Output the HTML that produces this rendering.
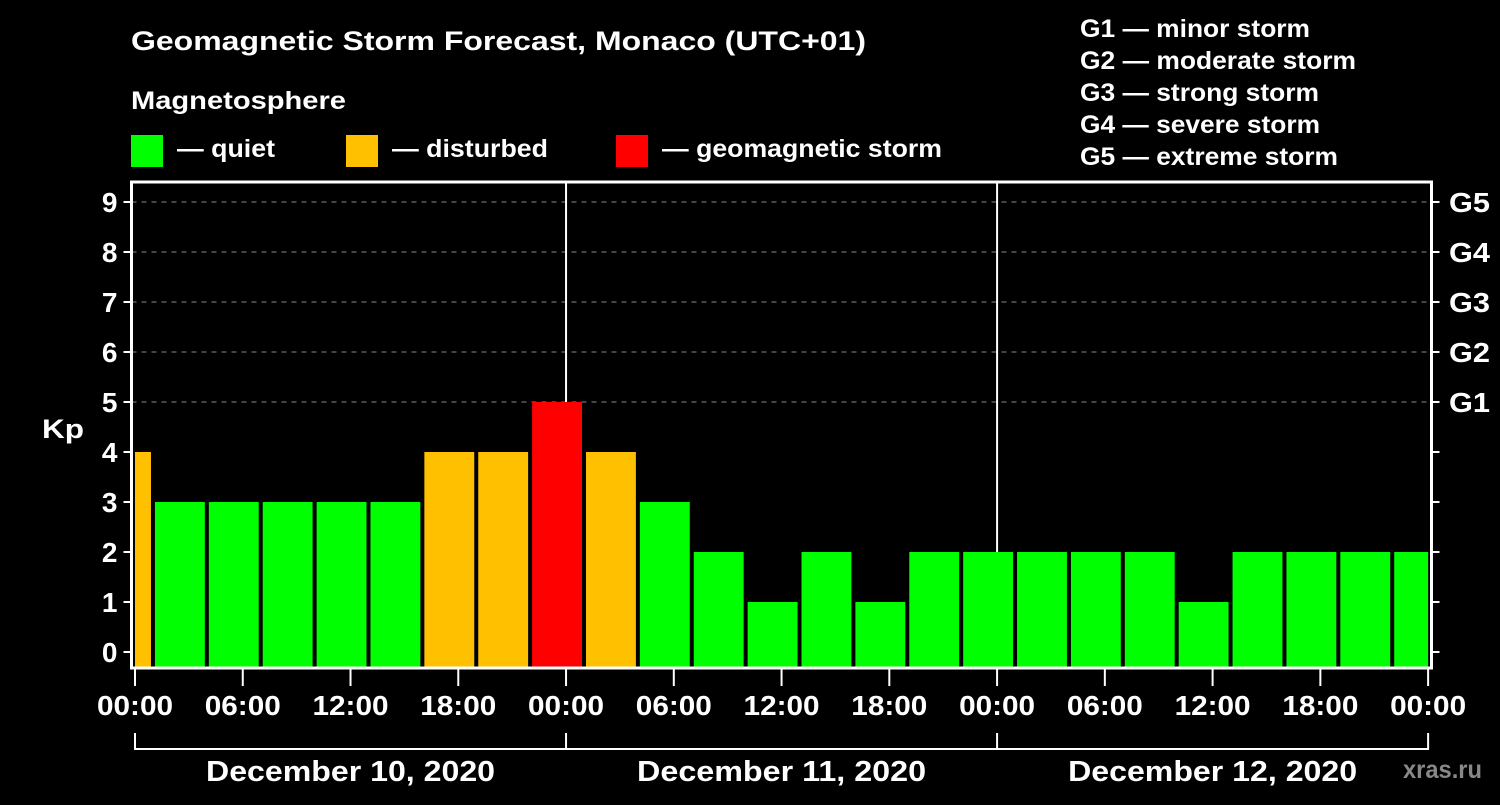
<!DOCTYPE html>
<html><head><meta charset="utf-8"><style>
body{margin:0;background:#000;width:1500px;height:800px;overflow:hidden}
svg text{font-family:"Liberation Sans",Arial,sans-serif;font-weight:bold;fill:#fff}
</style></head><body>
<svg id="c" width="1500" height="800" xmlns="http://www.w3.org/2000/svg">
<text x="131" y="50" font-size="27" textLength="735" lengthAdjust="spacingAndGlyphs">Geomagnetic Storm Forecast, Monaco (UTC+01)</text>
<text x="131" y="109" font-size="25" textLength="215" lengthAdjust="spacingAndGlyphs">Magnetosphere</text>
<rect x="131" y="135" width="32" height="32" fill="#00ff00"/>
<text x="177" y="157" font-size="25" textLength="98" lengthAdjust="spacingAndGlyphs">— quiet</text>
<rect x="346" y="135" width="32" height="32" fill="#ffc000"/>
<text x="392" y="157" font-size="25" textLength="156" lengthAdjust="spacingAndGlyphs">— disturbed</text>
<rect x="616" y="135" width="32" height="32" fill="#ff0000"/>
<text x="662" y="157" font-size="25" textLength="280" lengthAdjust="spacingAndGlyphs">— geomagnetic storm</text>
<g font-size="25">
<text x="1080" y="37" textLength="230" lengthAdjust="spacingAndGlyphs">G1 — minor storm</text>
<text x="1080" y="69" textLength="276" lengthAdjust="spacingAndGlyphs">G2 — moderate storm</text>
<text x="1080" y="101" textLength="239" lengthAdjust="spacingAndGlyphs">G3 — strong storm</text>
<text x="1080" y="133" textLength="240" lengthAdjust="spacingAndGlyphs">G4 — severe storm</text>
<text x="1080" y="165" textLength="258" lengthAdjust="spacingAndGlyphs">G5 — extreme storm</text>
</g>
<text x="42" y="438" font-size="27" textLength="42" lengthAdjust="spacingAndGlyphs">Kp</text>
<text x="1403" y="778" font-size="25" textLength="79" lengthAdjust="spacingAndGlyphs" style="fill:#888">xras.ru</text>
<g id="plot"></g>
</svg>
<script>
const kpValues=[4,3,3,3,3,3,4,4,5,4,3,2,1,2,1,2,2,2,2,2,1,2,2,2,2];
const barStartHours=[-2,1,4,7,10,13,16,19,22,25,28,31,34,37,40,43,46,49,52,55,58,61,64,67,70];
const yTicks=[0,1,2,3,4,5,6,7,8,9];
const gLabels=["G1","G2","G3","G4","G5"];
const timeLabels=["00:00","06:00","12:00","18:00","00:00","06:00","12:00","18:00","00:00","06:00","12:00","18:00","00:00"];
const dateLabels=["December 10, 2020","December 11, 2020","December 12, 2020"];
const NS="http://www.w3.org/2000/svg";
const g=document.getElementById('plot');
const L=131.5,R=1431.5,T=182,B=668;
const x=h=>135+h*17.96;
const y=v=>652-v*50;
function mk(t,a,p){const e=document.createElementNS(NS,t);for(const k in a)e.setAttribute(k,a[k]);(p||g).appendChild(e);return e;}
yTicks.forEach(v=>{
 if(v>=5){const l=mk('line',{x1:L,x2:R,y1:y(v),y2:y(v),stroke:'#888','stroke-width':1,'stroke-dasharray':'5,5'});
 
 }
 const t1=mk('line',{x1:L-8,x2:L,y1:y(v),y2:y(v),stroke:'#fff','stroke-width':2});
 
 
 const t2=mk('line',{x1:R,x2:R+8,y1:y(v),y2:y(v),stroke:'#fff','stroke-width':2});
 
 
 const tl=mk('text',{x:L-14,y:y(v)+10,'text-anchor':'end','font-size':28});
 tl.textContent=v;
 
 
 if(v>=5){const gl=mk('text',{x:1449,y:y(v)+10,'font-size':28,textLength:41,lengthAdjust:'spacingAndGlyphs'});gl.textContent=gLabels[v-5];
 
 }
});
[24,48].forEach(h=>{const l=mk('line',{x1:x(h),x2:x(h),y1:T,y2:B,stroke:'#fff','stroke-width':2});
 
 });
kpValues.forEach((v,i)=>{
 let x1=Math.max(x(barStartHours[i]),x(0)-2)+2, x2=Math.min(x(barStartHours[i]+3),x(72)+2)-2;
 const c=v>=5?'#ff0000':(v>=4?'#ffc000':'#00ff00');
 const r=mk('rect',{x:x1,y:y(v),width:x2-x1,height:B-y(v),fill:c});
 
 
});
const f=mk('rect',{x:L,y:T,width:R-L,height:B-T,fill:'none',stroke:'#fff','stroke-width':3});


timeLabels.forEach((s,i)=>{const xx=x(i*6);
 const tk=mk('line',{x1:xx,x2:xx,y1:B,y2:B+18,stroke:'#fff','stroke-width':2});
 
 
 const t=mk('text',{x:xx,y:715,'text-anchor':'middle','font-size':28,textLength:76,lengthAdjust:'spacingAndGlyphs'});t.textContent=s;
 
 });
const br=mk('polyline',{points:`${x(0)},733 ${x(0)},749 ${x(72)},749 ${x(72)},733`,fill:'none',stroke:'#fff','stroke-width':2});


dateLabels.forEach((s,i)=>{
 if(i>0){const l=mk('line',{x1:x(i*24),x2:x(i*24),y1:733,y2:749,stroke:'#fff','stroke-width':2});
 
 }
 const t=mk('text',{x:x(i*24+12),y:781,'text-anchor':'middle','font-size':29,textLength:289,lengthAdjust:'spacingAndGlyphs'});t.textContent=s;
 
 });
</script>
</body></html>
